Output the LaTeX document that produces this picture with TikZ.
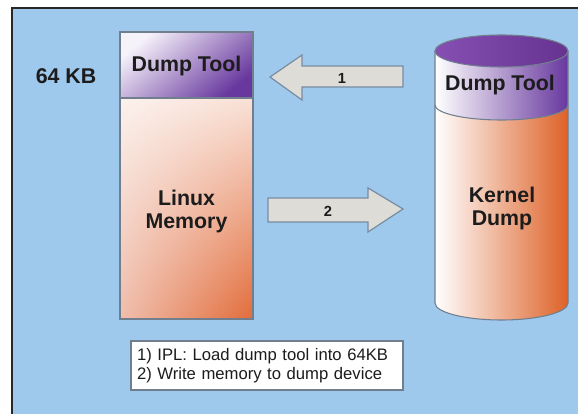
\documentclass[tikz,border=0pt]{standalone}
\usepackage{fontspec}
\setmainfont{Liberation Sans}
\usetikzlibrary{fadings}
\definecolor{bgblue}{RGB}{158,200,236}
\definecolor{framecol}{RGB}{40,40,40}
\definecolor{edgecol}{RGB}{112,126,142}
\definecolor{deeppurple}{RGB}{104,56,158}
\definecolor{lightlav}{RGB}{246,242,250}
\definecolor{bandmid}{RGB}{220,208,236}
\definecolor{deeporange}{RGB}{221,98,40}
\definecolor{memorange}{RGB}{226,108,58}
\definecolor{memleft}{RGB}{240,190,172}
\definecolor{salmon}{RGB}{244,204,190}
\definecolor{capviolet}{RGB}{120,60,170}
\definecolor{arrowfill}{RGB}{222,220,215}
\definecolor{arrowedge}{RGB}{120,140,162}
\definecolor{ink}{RGB}{28,28,28}
\begin{document}
\begin{tikzpicture}[x=0.75pt,y=0.75pt,
  bigtext/.style={font=\fontsize{16}{17.25}\selectfont\bfseries, text=ink, align=center, inner sep=0pt},
  numtext/.style={font=\fontsize{11}{12}\selectfont\bfseries, text=ink, inner sep=0pt},
  blockarrow/.style={fill=arrowfill, draw=arrowedge, line width=0.9pt, line join=miter},
  outline/.style={draw=edgecol, line width=0.8pt},
  legendbox/.style={draw=edgecol, fill=white, line width=0.8pt,
    minimum width=204pt, minimum height=36.75pt, text width=195pt,
    inner xsep=4.5pt, align=left, text=ink,
    font=\fontsize{12.5}{14.25}\selectfont}]
\useasboundingbox (0,0) rectangle (578,414);
% page and framed blue panel
\fill[white] (0,0) rectangle (578,414);
\fill[bgblue] (12,0) rectangle (578,406);
\draw[framecol, line width=1pt] (12,0) -- (12,406) -- (578,406);

% memory column: dump tool area on top of Linux memory
\shade[top color=lightlav, bottom color=deeppurple, shading angle=40] (120,316) rectangle (253,382);
\shade[left color=memleft, right color=memorange] (120,95) rectangle (253,316);
\fill[white, path fading=south, fill opacity=0.8] (120,95) rectangle (253,316);
\draw[outline] (120,95) rectangle (253,382);
\draw[outline] (120,316) -- (253,316);
\node[bigtext] (kb) at (66,338) {64 KB};
\node[bigtext] (memtool) at (186.5,348) {Dump Tool};
\node[bigtext] (linuxmem) at (186.5,202.5) {Linux\\Memory};

% block arrows
\draw[blockarrow] (270,337) -- (302,359) -- (302,348) -- (403,348) -- (403,327)
  -- (302,327) -- (302,314) -- cycle;
\node[numtext] (one) at (342,336) {1};
\draw[blockarrow] (403,205) -- (368,226) -- (368,216) -- (268,216) -- (268,192)
  -- (368,192) -- (368,182) -- cycle;
\node[numtext] (two) at (328,203) {2};

% dump device cylinder
\shade[left color=white, middle color=salmon, right color=deeporange]
  (435,309) -- (435,111) arc[start angle=180, end angle=360, x radius=66.5, y radius=17]
  -- (568,309) arc[start angle=0, end angle=-180, x radius=66.5, y radius=15] -- cycle;
\shade[left color=white, middle color=bandmid, right color=deeppurple]
  (435,363) -- (435,309) arc[start angle=180, end angle=360, x radius=66.5, y radius=15]
  -- (568,363) arc[start angle=0, end angle=-180, x radius=66.5, y radius=16] -- cycle;
\shade[left color=capviolet!90!white, right color=capviolet!85!black]
  (501.5,363) ellipse[x radius=66.5, y radius=16];
\draw[outline] (435,363) -- (435,111) arc[start angle=180, end angle=360, x radius=66.5, y radius=17] -- (568,363);
\draw[outline] (501.5,363) ellipse[x radius=66.5, y radius=16];
\draw[outline] (435,309) arc[start angle=180, end angle=360, x radius=66.5, y radius=15];
\node[bigtext] (devtool) at (500,329) {Dump Tool};
\node[bigtext] (kdump) at (502,205.5) {Kernel\\Dump};

% legend
\node[legendbox] (legend) at (267,48.5) {1) IPL: Load dump tool into 64KB\\2) Write memory to dump device};
\end{tikzpicture}
\end{document}
